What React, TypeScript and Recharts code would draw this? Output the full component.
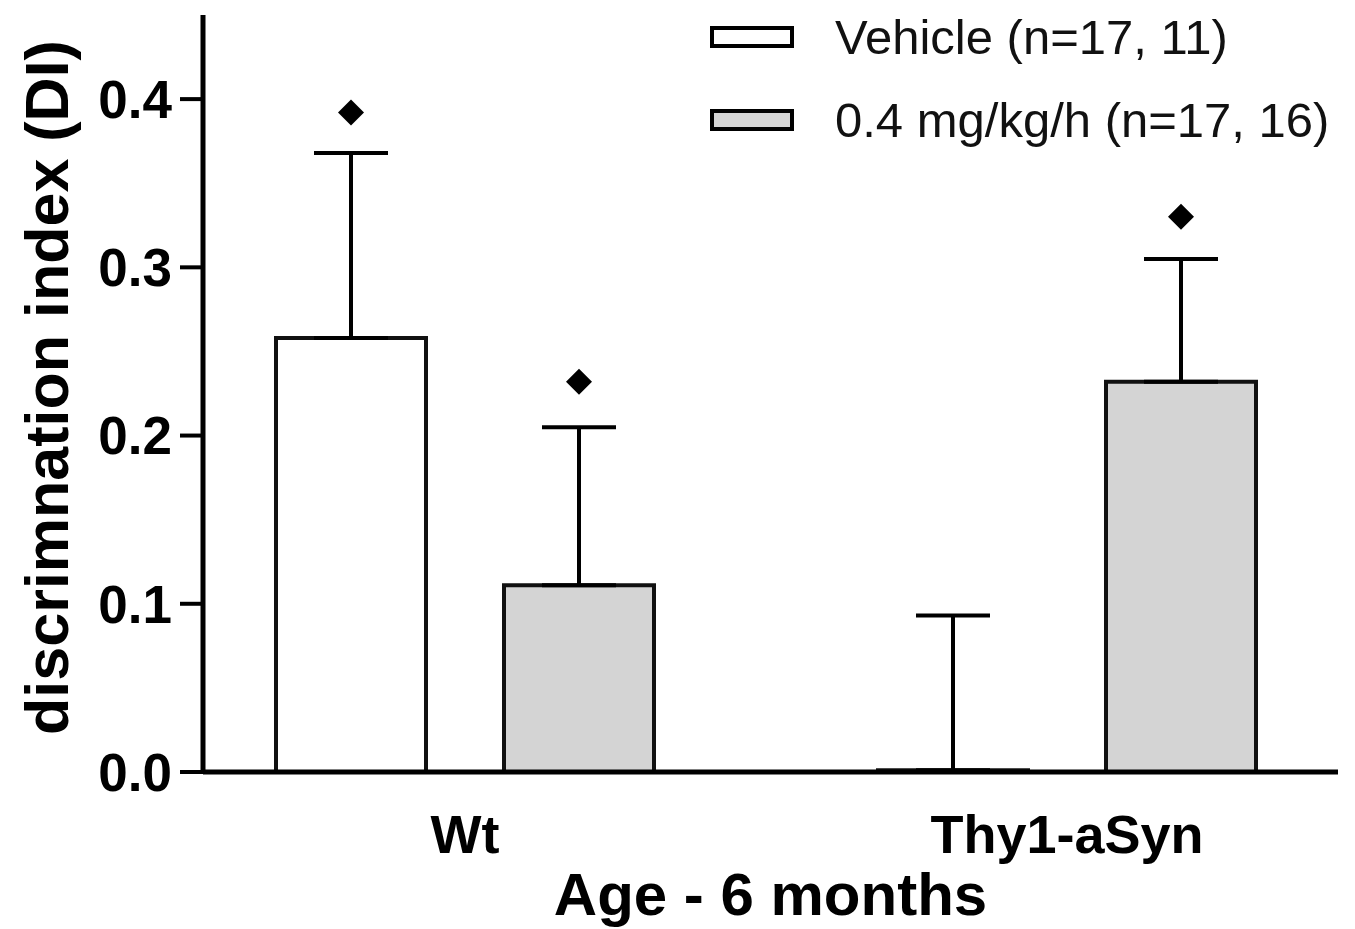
import { Bar, BarChart, ErrorBar, LabelList, Legend, XAxis, YAxis } from "recharts";

const groups = ["Wt", "Thy1-aSyn"];
const seriesNames = ["Vehicle (n=17, 11)", "0.4 mg/kg/h (n=17, 16)"];
const vehicleMean = [0.258, 0.001];
const vehicleSem = [0.11, 0.092];
const vehicleMark = [0.392, null];
const doseMean = [0.111, 0.232];
const doseSem = [0.094, 0.073];
const doseMark = [0.232, 0.33];
const yTicks = [0, 0.1, 0.2, 0.3, 0.4];

const data = groups.map((g, i) => ({
  group: g,
  vehicle: vehicleMean[i],
  vehicleErr: [0, vehicleSem[i]],
  vehicleMark: vehicleMark[i],
  dose: doseMean[i],
  doseErr: [0, doseSem[i]],
  doseMark: doseMark[i],
}));

const FONT = "'Liberation Sans', Arial, Helvetica, sans-serif";

// diamond marker above the error bar, placed using the bar's own pixel scale
const diamond = (means: number[]) => (props: any) => {
  const { x, y, width, height, value, index } = props;
  if (value == null || !means[index]) return null;
  const base = Number(y) + Number(height);
  const cy = base - (value * Number(height)) / means[index];
  const cx = Number(x) + Number(width) / 2;
  const r = 13;
  return (
    <path
      d={`M${cx},${cy - r}L${cx + r},${cy}L${cx},${cy + r}L${cx - r},${cy}Z`}
      fill="#000"
    />
  );
};

const renderLegend = ({ payload }: any) => {
  const items = [...(payload || [])].sort(
    (a: any, b: any) => seriesNames.indexOf(a.value) - seriesNames.indexOf(b.value)
  );
  return (
    <div style={{ fontFamily: FONT, fontSize: 49, color: "#111" }}>
      {items.map((p: any) => (
        <div
          key={p.value}
          style={{ display: "flex", alignItems: "center", height: 83, whiteSpace: "nowrap" }}
        >
          <svg width={86} height={26}>
            <rect x={3} y={4} width={80} height={18} fill={p.color} stroke="#000" strokeWidth={4} />
          </svg>
          <span style={{ marginLeft: 40 }}>{p.value}</span>
        </div>
      ))}
    </div>
  );
};

const App = () => {
  return (
    <div style={{ position: "absolute", left: 0, top: 0 }}>
      <BarChart
        width={1355}
        height={929}
        data={data}
        margin={{ top: 15, right: 17, bottom: 77, left: 83 }}
        barSize={150}
        barGap={78}
      >
        <XAxis
          dataKey="group"
          padding={{ left: -39, right: -30 }}
          axisLine={{ stroke: "#000", strokeWidth: 5 }}
          tickLine={false}
          tickSize={6}
          tickMargin={37}
          height={80}
          tick={{ fill: "#000", fontSize: 54, fontWeight: "bold", fontFamily: FONT }}
          label={{
            value: "Age - 6 months",
            position: "bottom",
            offset: 20,
            fill: "#000",
            fontSize: 60,
            fontWeight: "bold",
            fontFamily: FONT,
          }}
        />
        <YAxis
          width={120}
          domain={[0, 0.45]}
          ticks={yTicks}
          tickFormatter={(v: number) => v.toFixed(1)}
          axisLine={{ stroke: "#000", strokeWidth: 5 }}
          tickLine={{ stroke: "#000", strokeWidth: 4 }}
          tickSize={23}
          tickMargin={8}
          tick={{ fill: "#000", fontSize: 53, fontWeight: "bold", fontFamily: FONT }}
          label={{
            content: ({ viewBox }: any) => {
              const cx = viewBox.x - 36;
              const cy = viewBox.y + viewBox.height / 2 - 6;
              return (
                <text
                  x={cx}
                  y={cy}
                  transform={`rotate(-90 ${cx} ${cy})`}
                  textAnchor="middle"
                  dominantBaseline="central"
                  fill="#000"
                  fontSize={61}
                  fontWeight="bold"
                  fontFamily={FONT}
                >
                  discrimnation index (DI)
                </text>
              );
            },
          }}
        />
        <Legend
          layout="vertical"
          align="center"
          verticalAlign="middle"
          content={renderLegend}
          wrapperStyle={{ position: "absolute", top: -5, left: 709, width: "auto", height: "auto" }}
        />
        <Bar
          dataKey="vehicle"
          name={seriesNames[0]}
          fill="#ffffff"
          stroke="#111"
          strokeWidth={4}
          isAnimationActive={false}
        >
          <ErrorBar dataKey="vehicleErr" width={37} stroke="#000" strokeWidth={4} direction="y" />
          <LabelList dataKey="vehicleMark" content={diamond(vehicleMean)} />
        </Bar>
        <Bar
          dataKey="dose"
          name={seriesNames[1]}
          fill="#d4d4d4"
          stroke="#111"
          strokeWidth={4}
          isAnimationActive={false}
        >
          <ErrorBar dataKey="doseErr" width={37} stroke="#000" strokeWidth={4} direction="y" />
          <LabelList dataKey="doseMark" content={diamond(doseMean)} />
        </Bar>
      </BarChart>
    </div>
  );
};

export default App;
